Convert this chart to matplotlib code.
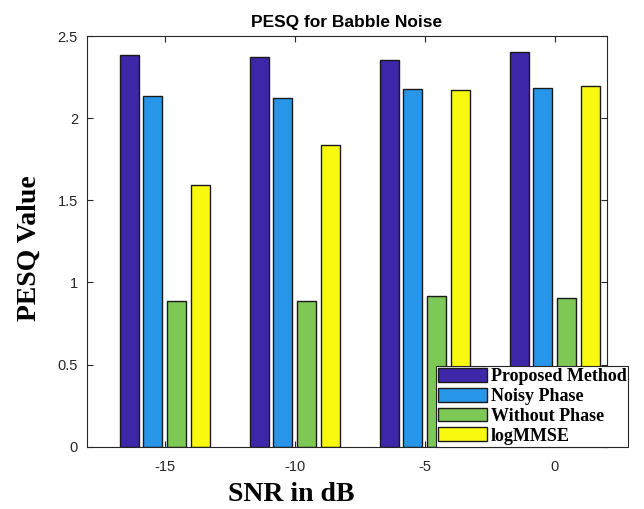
import numpy as np
import matplotlib.pyplot as plt

# valores
snr_labels = ['-15', '-10', '-5', '0']
series = ['Proposed Method', 'Noisy Phase', 'Without Phase', 'logMMSE']
proposed = [2.385, 2.375, 2.355, 2.405]
noisy = [2.135, 2.125, 2.178, 2.186]
without = [0.885, 0.885, 0.915, 0.908]
logmmse = [1.596, 1.834, 2.170, 2.193]
cores = ['#3e26a8', '#2796e8', '#7ec955', '#f9f910']

fig = plt.figure(figsize=(6.44, 5.09), dpi=100)
ax = fig.add_axes([0.1346, 0.1224, 0.8075, 0.8068])

x = np.arange(1, len(snr_labels) + 1)
largura = 0.148
passo = 0.182
dados = [proposed, noisy, without, logmmse]
for i, (vals, cor, nome) in enumerate(zip(dados, cores, series)):
    ax.bar(x + (i - 1.5) * passo, vals, largura, color=cor, edgecolor='#1a1a1a',
           linewidth=1.0, label=nome)

ax.set_xlim(0.4, 4.4)
ax.set_ylim(0, 2.5)
ax.set_xticks(x)
ax.set_xticklabels(snr_labels)
ax.set_yticks([0, 0.5, 1, 1.5, 2, 2.5])
ax.set_yticklabels(['0', '0.5', '1', '1.5', '2', '2.5'])

ax.tick_params(axis='both', direction='in', length=4, width=0.8, colors='#262626',
               labelsize=10.5, top=True, right=True)
ax.tick_params(axis='y', pad=6.3)
ax.tick_params(axis='x', pad=9.5)
for s in ax.spines.values():
    s.set_color('#262626')
    s.set_linewidth(0.8)

ax.set_title('PESQ for Babble Noise', fontsize=12.5, fontweight='bold',
             family='Liberation Sans', pad=6.5)
ax.set_xlabel('SNR in dB', fontsize=20, fontweight='bold', family='Liberation Serif',
              va='center')
ax.xaxis.set_label_coords(0.394, -0.1176)
ax.set_ylabel('PESQ Value', fontsize=20, fontweight='bold', family='Liberation Serif',
              va='center', ha='center')
ax.yaxis.set_label_coords(-0.11, 0.4826)

for lbl in ax.get_xticklabels() + ax.get_yticklabels():
    lbl.set_family('Liberation Sans')

# legenda no canto inferior direito
leg = ax.legend(loc='lower left', bbox_to_anchor=(436 / 644, (509 - 446.7) / 509),
                bbox_transform=fig.transFigure, borderaxespad=0, borderpad=0.12,
                labelspacing=0.14, handlelength=2.7, handleheight=0.8, handletextpad=0.2,
                fancybox=False, framealpha=1, edgecolor='#262626',
                prop={'family': 'Liberation Serif', 'weight': 'bold', 'size': 13})
leg.get_frame().set_linewidth(0.8)

fig.savefig('out.png', dpi=100, facecolor='white')
